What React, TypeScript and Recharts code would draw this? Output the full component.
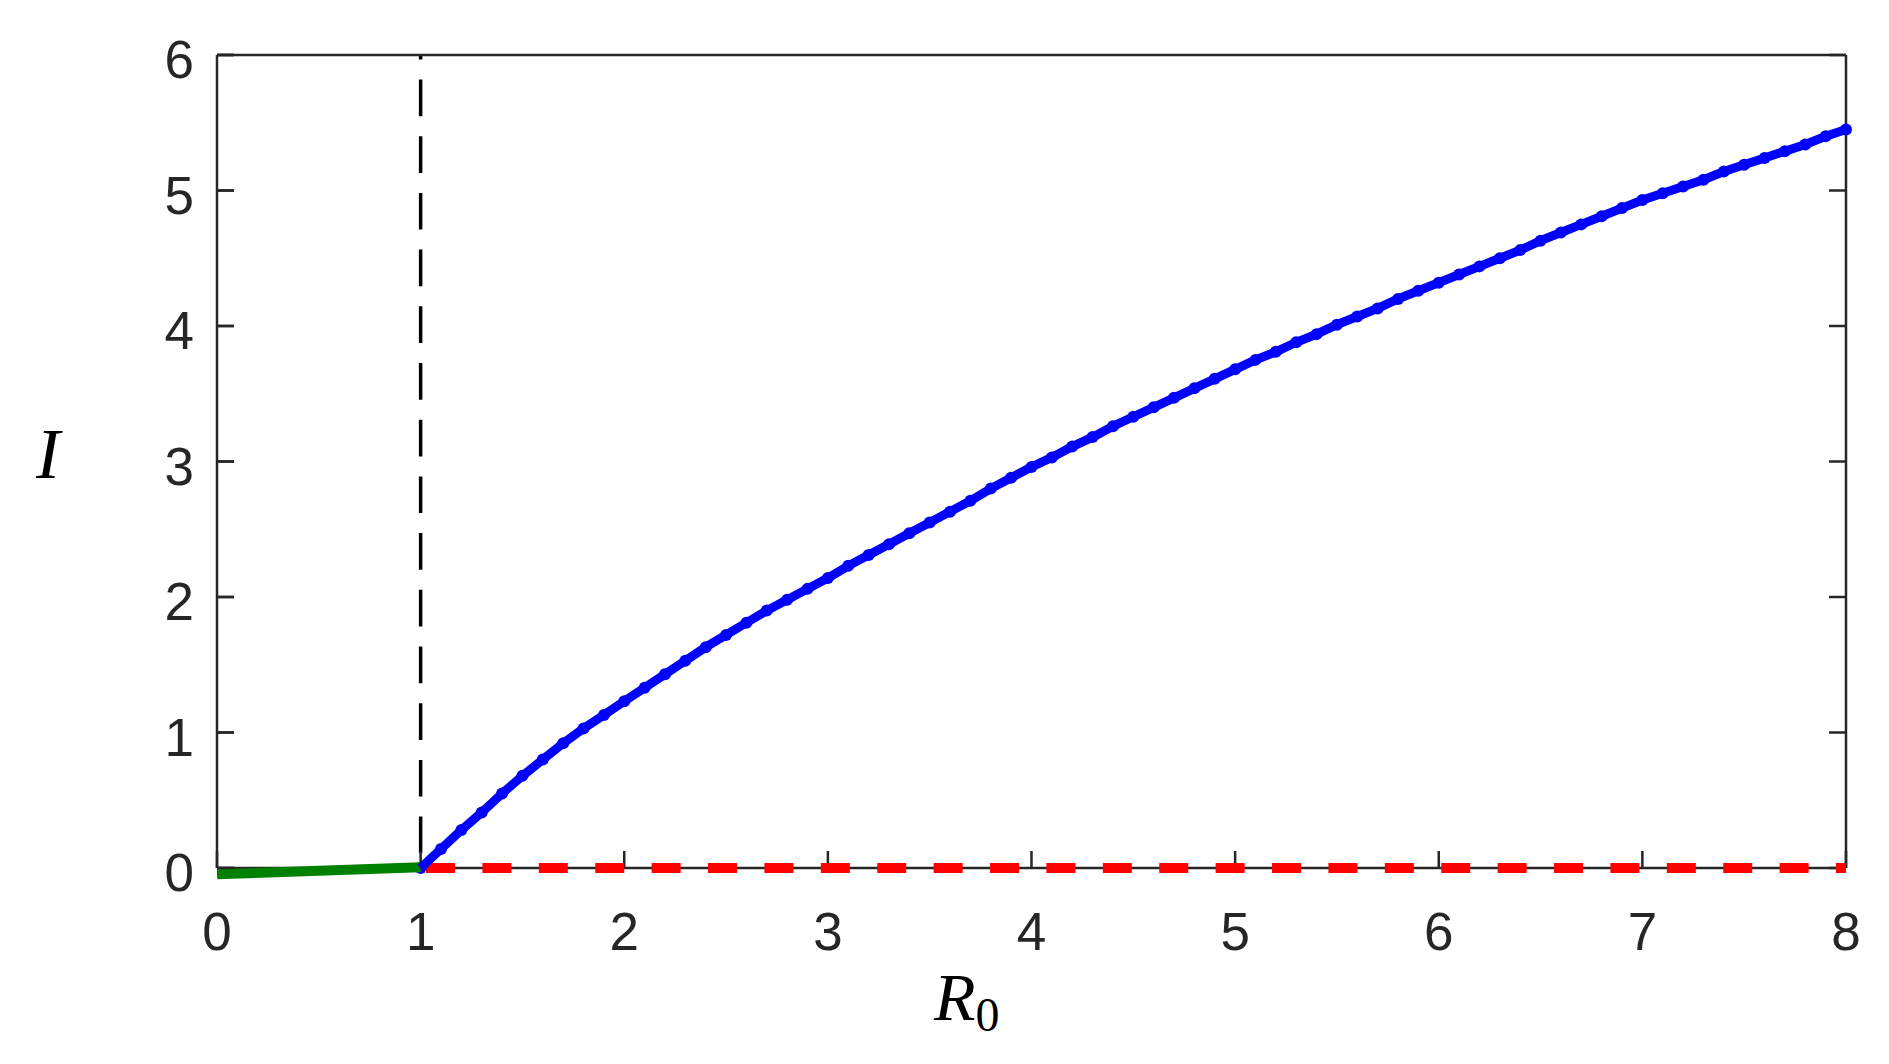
import { LineChart, Line, XAxis, YAxis, ReferenceLine } from "recharts";

// R0 values of the endemic branch and the read-off I values
const endemicR0 = [
  1.0, 1.1, 1.2, 1.3, 1.4, 1.5, 1.6, 1.7, 1.8, 1.9,
  2.0, 2.1, 2.2, 2.3, 2.4, 2.5, 2.6, 2.7, 2.8, 2.9,
  3.0, 3.1, 3.2, 3.3, 3.4, 3.5, 3.6, 3.7, 3.8, 3.9,
  4.0, 4.1, 4.2, 4.3, 4.4, 4.5, 4.6, 4.7, 4.8, 4.9,
  5.0, 5.1, 5.2, 5.3, 5.4, 5.5, 5.6, 5.7, 5.8, 5.9,
  6.0, 6.1, 6.2, 6.3, 6.4, 6.5, 6.6, 6.7, 6.8, 6.9,
  7.0, 7.1, 7.2, 7.3, 7.4, 7.5, 7.6, 7.7, 7.8, 7.9,
  8.0,
];
const endemicI = [
  0.0, 0.14, 0.28, 0.41, 0.55, 0.68, 0.8, 0.92, 1.03, 1.13,
  1.23, 1.33, 1.43, 1.53, 1.63, 1.72, 1.81, 1.9, 1.98, 2.06,
  2.14, 2.23, 2.31, 2.39, 2.47, 2.55, 2.63, 2.71, 2.8, 2.88,
  2.96, 3.03, 3.11, 3.18, 3.26, 3.33, 3.4, 3.47, 3.54, 3.61,
  3.68, 3.75, 3.81, 3.88, 3.94, 4.01, 4.07, 4.13, 4.2, 4.26,
  4.32, 4.38, 4.44, 4.5, 4.56, 4.63, 4.69, 4.75, 4.81, 4.87,
  4.93, 4.98, 5.03, 5.08, 5.14, 5.19, 5.24, 5.29, 5.34, 5.4,
  5.45,
];

// stable disease-free branch (R0 < 1)
const stableR0 = [0, 1];
const stableI = [-0.047, 0.005];

// unstable disease-free branch (R0 > 1)
const unstableR0 = [1, 8];
const unstableI = [0, 0];

const thresholdR0 = 1;

const xTicks = [0, 1, 2, 3, 4, 5, 6, 7, 8];
const yTicks = [0, 1, 2, 3, 4, 5, 6];

const endemicData = endemicR0.map((r, k) => ({ r, i: endemicI[k] }));
const stableData = stableR0.map((r, k) => ({ r, i: stableI[k] }));
const unstableData = unstableR0.map((r, k) => ({ r, i: unstableI[k] }));

const AXIS = "#262626";
const SANS = "'Liberation Sans', Arial, Helvetica, sans-serif";
const SERIF = "'Liberation Serif', 'Times New Roman', serif";
const TICK_LEN = 17;

const XTick = (props: any) => (
  <text x={props.x} y={props.y} dy={39} textAnchor="middle" fill={AXIS} fontSize={53} fontFamily={SANS}>
    {props.payload.value}
  </text>
);

// label plus an inward tick mark (tick end sits tickMargin=40 right of the label anchor)
const YTick = (props: any) => (
  <g>
    <line x1={props.x + 40} x2={props.x + 40 - TICK_LEN} y1={props.y} y2={props.y} stroke={AXIS} strokeWidth={2.5} />
    <text x={props.x} y={props.y} dy={23} textAnchor="end" fill={AXIS} fontSize={53} fontFamily={SANS}>
      {props.payload.value}
    </text>
  </g>
);

// top mirror axis: inward tick only (default tickMargin of 2)
const TopTick = (props: any) => (
  <line x1={props.x} x2={props.x} y1={props.y + 2} y2={props.y + 2 - TICK_LEN} stroke={AXIS} strokeWidth={2.5} />
);

// right mirror axis: ticks only
const NoLabel = () => <g />;

export default function App() {
  return (
    <div style={{ position: "absolute", left: 0, top: 0, width: 1889, height: 1064, background: "#fff" }}>
      {/* y axis is fixed to 0..6; lines may spill a few px past the box like in matlab */}
      <style>{`.recharts-wrapper [clip-path] { clip-path: none !important; }`}</style>
      <LineChart width={1889} height={1064} margin={{ top: 54, right: 42, bottom: 195, left: 216 }}>
        <XAxis
          type="number"
          dataKey="r"
          domain={[0, 8]}
          ticks={xTicks}
          height={1}
          tickSize={-TICK_LEN}
          tickMargin={60}
          tick={<XTick />}
          stroke={AXIS}
          strokeWidth={2.5}
        />
        <XAxis
          xAxisId="top"
          orientation="top"
          type="number"
          domain={[0, 8]}
          allowDataOverflow
          ticks={xTicks}
          height={1}
          tickSize={-TICK_LEN}
          tick={<TopTick />}
          stroke={AXIS}
          strokeWidth={2.5}
        />
        <YAxis
          type="number"
          domain={[0, 6]}
          allowDataOverflow
          ticks={yTicks}
          width={1}
          tickSize={-TICK_LEN}
          tickMargin={40}
          tick={<YTick />}
          stroke={AXIS}
          strokeWidth={2.5}
        />
        <YAxis
          yAxisId="right"
          orientation="right"
          type="number"
          domain={[0, 6]}
          allowDataOverflow
          ticks={yTicks}
          width={1}
          tickSize={-TICK_LEN}
          tick={<NoLabel />}
          stroke={AXIS}
          strokeWidth={2.5}
        />
        <ReferenceLine
          segment={[{ x: thresholdR0, y: 0 }, { x: thresholdR0, y: 6 }]}
          stroke="#000"
          strokeWidth={3.5}
          strokeDasharray="36.7 20"
          strokeDashoffset={42}
        />
        <Line
          data={unstableData}
          dataKey="i"
          type="linear"
          stroke="#ff0000"
          strokeWidth={10}
          strokeDasharray="29 27.4"
          strokeDashoffset={51}
          dot={false}
          activeDot={false}
          isAnimationActive={false}
          zIndex={600}
        />
        <Line
          data={stableData}
          dataKey="i"
          type="linear"
          stroke="#008000"
          strokeWidth={10}
          dot={false}
          activeDot={false}
          isAnimationActive={false}
          zIndex={610}
        />
        <Line
          data={endemicData}
          dataKey="i"
          type="linear"
          stroke="#0000ff"
          strokeWidth={9}
          dot={{ r: 6, fill: "#0000ff", stroke: "none", strokeWidth: 0 }}
          activeDot={false}
          isAnimationActive={false}
          zIndex={620}
        />
      </LineChart>
      <svg
        width={1889}
        height={1064}
        style={{ position: "absolute", left: 0, top: 0, pointerEvents: "none" }}
      >
        <text x={48} y={478} textAnchor="middle" fontSize={72} fontStyle="italic" fontFamily={SERIF} fill="#000">
          I
        </text>
        <text x={934} y={1020} fontFamily={SERIF} fill="#000">
          <tspan fontSize={68} fontStyle="italic">R</tspan>
          <tspan fontSize={48} dy={11}>0</tspan>
        </text>
      </svg>
    </div>
  );
}
